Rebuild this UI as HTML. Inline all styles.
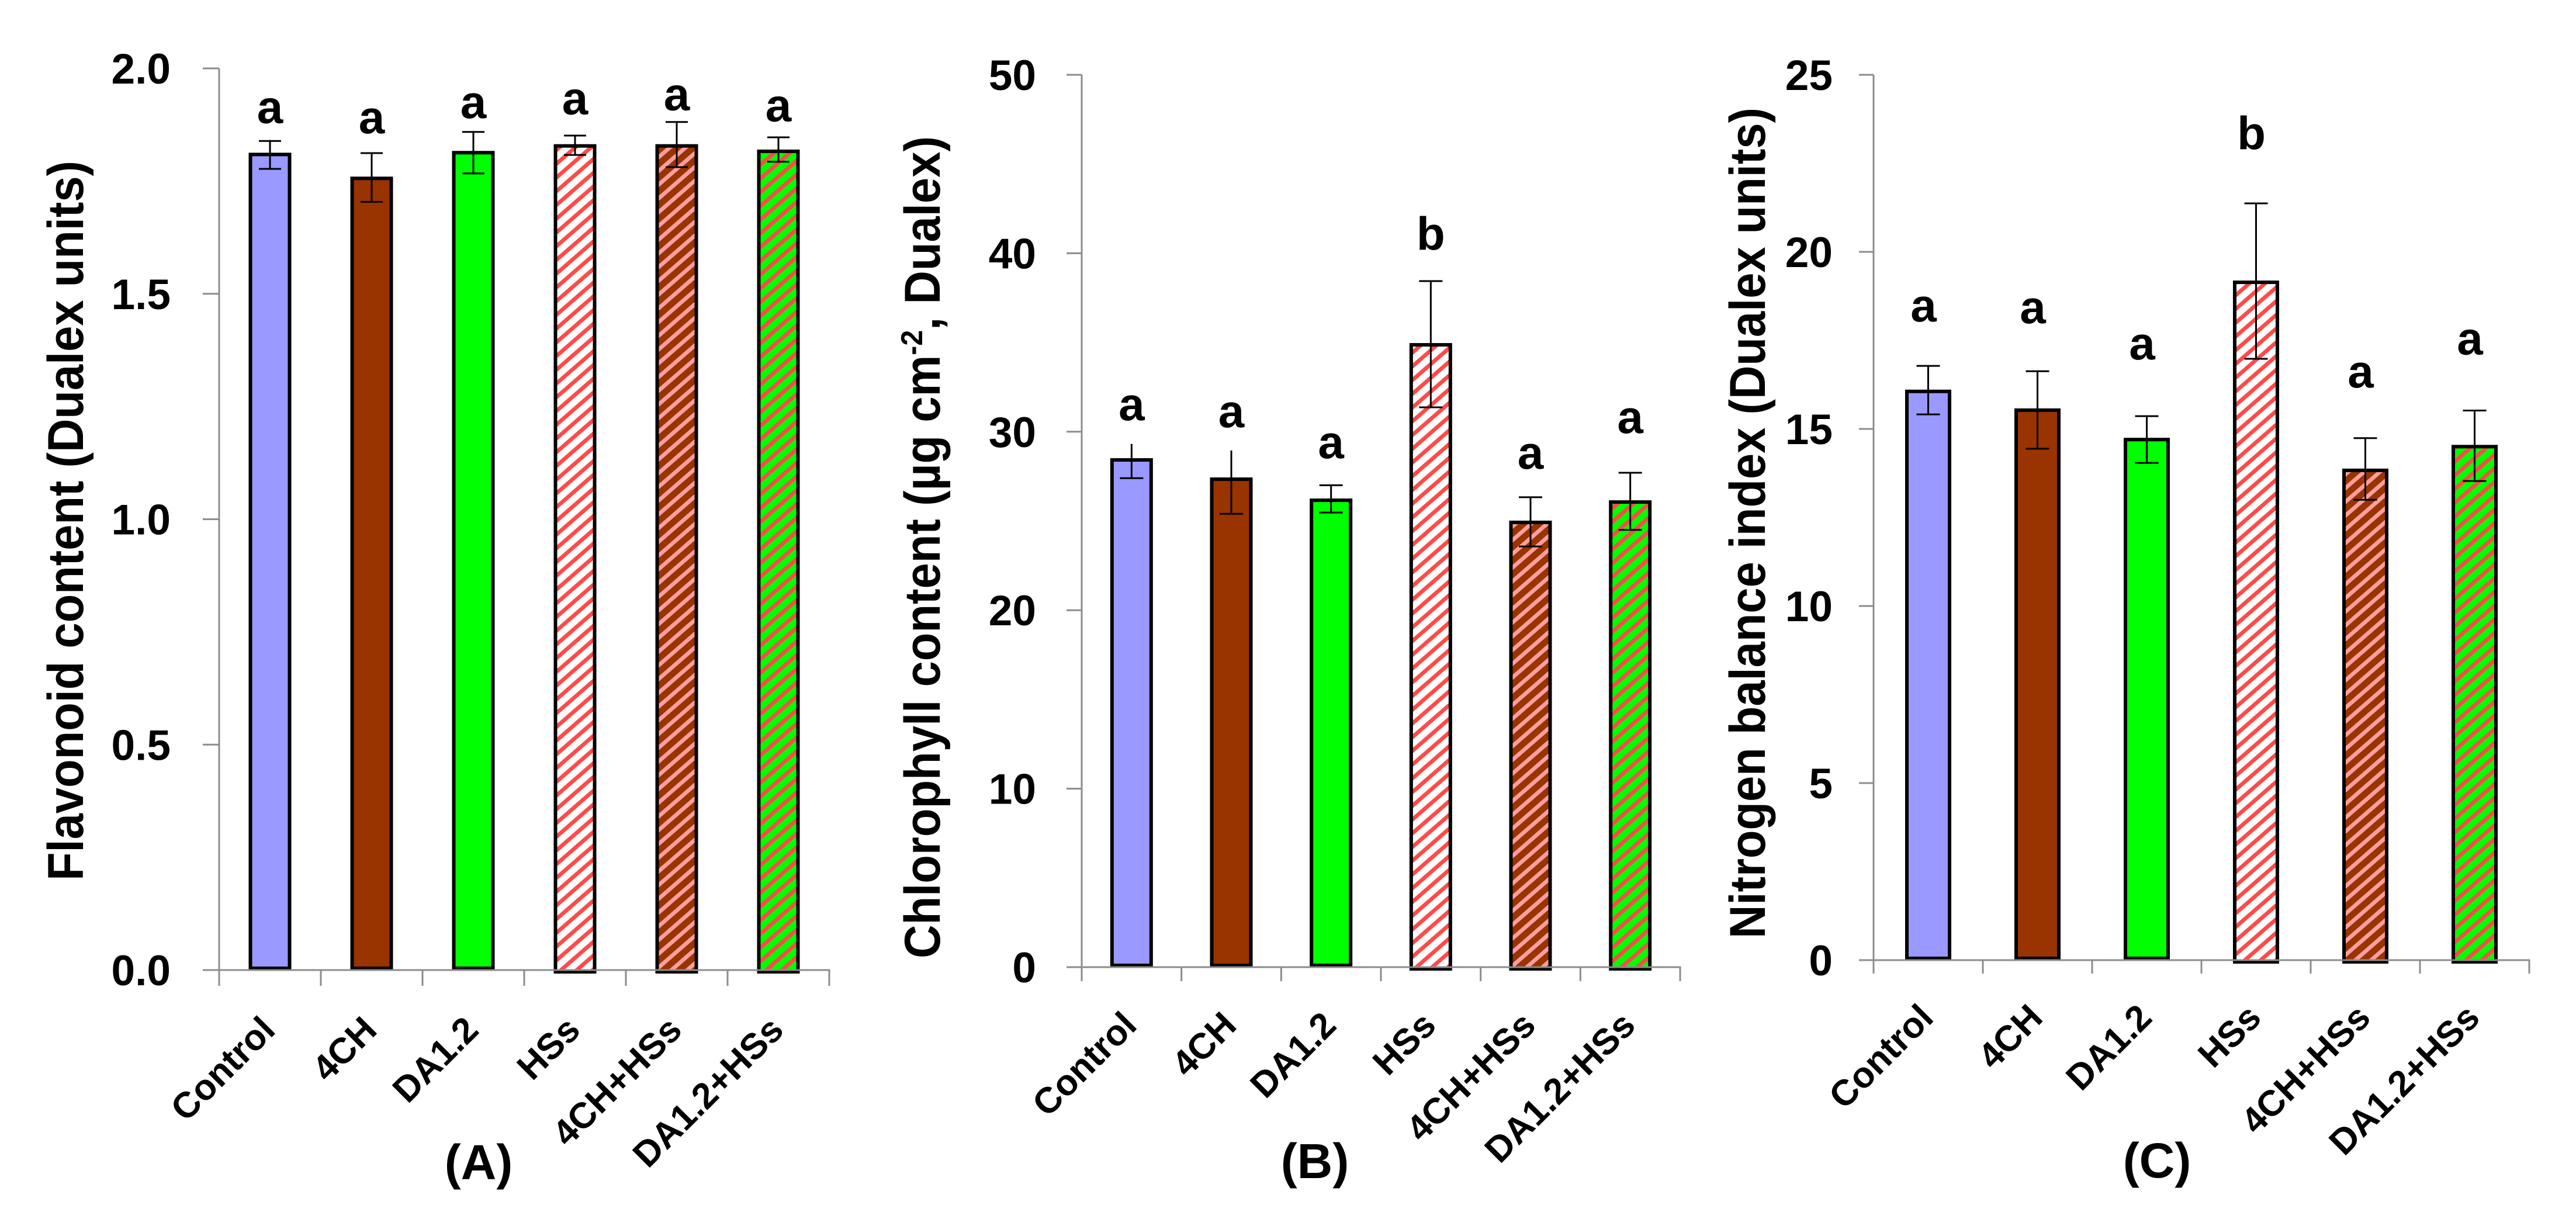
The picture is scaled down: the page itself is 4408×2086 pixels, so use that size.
<!DOCTYPE html>
<html lang="en">
<head>
<meta charset="utf-8">
<title>Flavonoid, chlorophyll and nitrogen balance index bar charts</title>
<style>
  html, body { margin: 0; padding: 0; background: #ffffff; }
  svg { display: block; }
  text { font-family: "Liberation Sans", sans-serif; font-weight: bold; fill: #000000; }
</style>
</head>
<body>
<svg id="figure" xmlns="http://www.w3.org/2000/svg" width="4408" height="2086" viewBox="0 0 4408 2086">
  <defs>
    <pattern id="hatch-white" patternUnits="userSpaceOnUse" width="27" height="23.5">
      <rect width="27" height="23.5" fill="#ffffff"/>
      <polygon points="0,23.5 27,0 27,9 0,32.5" fill="#ff4a4a"/>
      <polygon points="0,0 27,-23.5 27,-14.5 0,9" fill="#ff4a4a"/>
    </pattern>
    <pattern id="hatch-brown" patternUnits="userSpaceOnUse" width="27" height="23.5">
      <rect width="27" height="23.5" fill="#993300"/>
      <polygon points="0,23.5 27,0 27,9 0,32.5" fill="#ff9f9f"/>
      <polygon points="0,0 27,-23.5 27,-14.5 0,9" fill="#ff9f9f"/>
    </pattern>
    <pattern id="hatch-green" patternUnits="userSpaceOnUse" width="27" height="23.5">
      <rect width="27" height="23.5" fill="#00ff00"/>
      <polygon points="0,23.5 27,0 27,9 0,32.5" fill="#ff4a4a"/>
      <polygon points="0,0 27,-23.5 27,-14.5 0,9" fill="#ff4a4a"/>
    </pattern>
  </defs>

  <text transform="translate(142,1507) rotate(-90)" font-size="86" textLength="1232" lengthAdjust="spacingAndGlyphs">Flavonoid content (Dualex units)</text>
  <text transform="translate(1608,1640) rotate(-90)" font-size="86" textLength="1407" lengthAdjust="spacingAndGlyphs">Chlorophyll content (µg cm<tspan font-size="52" dy="-30">-2</tspan><tspan dy="30">, Dualex)</tspan></text>
  <text transform="translate(3020,1606) rotate(-90)" font-size="86" textLength="1422" lengthAdjust="spacingAndGlyphs">Nitrogen balance index (Dualex units)</text>

  <text x="819" y="2018" font-size="84" text-anchor="middle">(A)</text>
  <text x="2250" y="2016" font-size="84" text-anchor="middle">(B)</text>
  <text x="3691" y="2015" font-size="84" text-anchor="middle">(C)</text>
</svg>

<script>
const categories = ["Control", "4CH", "DA1.2", "HSs", "4CH+HSs", "DA1.2+HSs"];
const barFills = ["#9999ff", "#993300", "#00ff00", "url(#hatch-white)", "url(#hatch-brown)", "url(#hatch-green)"];
const barHatched = [false, false, false, true, true, true];

const flavonoidTicks = [0, 0.5, 1, 1.5, 2];
const flavonoidTickLabels = ["0.0", "0.5", "1.0", "1.5", "2.0"];
const flavonoidMeans = [1.809, 1.756, 1.813, 1.828, 1.828, 1.816];
const flavonoidHighs = [1.839, 1.812, 1.859, 1.851, 1.881, 1.847];
const flavonoidLows = [1.777, 1.704, 1.767, 1.808, 1.781, 1.793];
const flavonoidLetters = ["a", "a", "a", "a", "a", "a"];
const flavonoidLetterLevels = [1.879, 1.856, 1.890, 1.898, 1.907, 1.883];
const flavonoidUpperCaps = [true, true, true, true, true, true];

const chlorophyllTicks = [0, 10, 20, 30, 40, 50];
const chlorophyllTickLabels = ["0", "10", "20", "30", "40", "50"];
const chlorophyllMeans = [28.42, 27.34, 26.16, 34.87, 24.92, 26.06];
const chlorophyllHighs = [29.27, 28.9, 27.0, 38.44, 26.33, 27.7];
const chlorophyllLows = [27.4, 25.4, 25.47, 31.37, 23.57, 24.5];
const chlorophyllLetters = ["a", "a", "a", "b", "a", "a"];
const chlorophyllLetterLevels = [30.65, 30.25, 28.52, 40.2, 27.93, 29.93];
const chlorophyllUpperCaps = [false, false, true, true, true, true];

const nitrogenTicks = [0, 5, 10, 15, 20, 25];
const nitrogenTickLabels = ["0", "5", "10", "15", "20", "25"];
const nitrogenMeans = [16.06, 15.53, 14.70, 19.14, 13.83, 14.5];
const nitrogenHighs = [16.78, 16.63, 15.36, 21.37, 14.74, 15.52];
const nitrogenLows = [15.41, 14.44, 14.04, 16.98, 13.0, 13.53];
const nitrogenLetters = ["a", "a", "a", "b", "a", "a"];
const nitrogenLetterLevels = [18.04, 17.99, 16.96, 22.9, 16.17, 17.1];
const nitrogenUpperCaps = [true, true, true, true, true, true];

const SVG_NS = "http://www.w3.org/2000/svg";
const AXIS_COLOR = "#8c8c8c";

function node(parent, tag, attrs, content) {
  const el = document.createElementNS(SVG_NS, tag);
  for (const key in attrs) el.setAttribute(key, attrs[key]);
  if (content !== undefined) el.textContent = content;
  parent.appendChild(el);
  return el;
}

function drawChart(box, series) {
  const svg = document.getElementById("figure");
  const chart = document.createElementNS(SVG_NS, "g");
  
  
  svg.appendChild(chart);

  const maxTick = series.ticks[series.ticks.length - 1];
  const yScale = v => box.base - (v / maxTick) * (box.base - box.top);
  const band = (box.right - box.left) / categories.length;
  const xCenter = i => box.left + band * (i + 0.5);
  const xEdge = i => box.left + band * i;

  // bars
  categories.forEach((cat, i) => {
    const top = yScale(series.means[i]);
    const bottom = barHatched[i] ? box.base + 3 : box.base - 3;
    const bar = node(chart, "rect", {
      x: xCenter(i) - box.barWidth / 2,
      y: top,
      width: box.barWidth,
      height: bottom - top,
      fill: barFills[i],
      stroke: "#000000",
      "stroke-width": 6
    });
    
    
  });

  // axes
  const yAxis = node(chart, "line", { x1: box.left, x2: box.left, y1: box.top, y2: box.base + box.tickLen, stroke: AXIS_COLOR, "stroke-width": 3 });
  
  

  const xAxis = node(chart, "line", { x1: box.left - box.tickOut, x2: box.right + 1.5, y1: box.base, y2: box.base, stroke: AXIS_COLOR, "stroke-width": 3 });
  
  

  series.ticks.forEach((t, i) => {
    const y = yScale(t);
    const mark = node(chart, "line", { x1: box.left - box.tickOut, x2: box.left, y1: y, y2: y, stroke: AXIS_COLOR, "stroke-width": 3 });
    
    
    const label = node(chart, "text", { x: box.labelRight, y: y + 26, "font-size": 73, "text-anchor": "end" }, series.tickLabels[i]);
    
    
  });

  for (let i = 0; i <= categories.length; i++) {
    const mark = node(chart, "line", { x1: xEdge(i), x2: xEdge(i), y1: box.base, y2: box.base + box.tickLen, stroke: AXIS_COLOR, "stroke-width": 3 });
    
    
  }

  // category labels
  categories.forEach((cat, i) => {
    const lx = xCenter(i) + 12;
    const label = node(chart, "text", {
      transform: "translate(" + lx + "," + box.catY + ") rotate(-45)",
      "font-size": 62,
      "text-anchor": "end"
    }, cat);
    
    
  });

  // error bars and significance letters
  categories.forEach((cat, i) => {
    const cx = xCenter(i);
    const hi = yScale(series.highs[i]);
    const lo = yScale(series.lows[i]);
    const stem = node(chart, "line", { x1: cx, x2: cx, y1: hi - 1.5, y2: lo + 1.5, stroke: "#000000", "stroke-width": 3 });
    
    
    if (series.upperCaps[i]) {
      const capTop = node(chart, "line", { x1: cx - box.cap, x2: cx + box.cap, y1: hi, y2: hi, stroke: "#000000", "stroke-width": 3 });
      
      
    }
    const capLow = node(chart, "line", { x1: cx - box.cap, x2: cx + box.cap, y1: lo, y2: lo, stroke: "#000000", "stroke-width": 3 });
    
    

    const letter = node(chart, "text", {
      x: cx + box.letterShift,
      y: yScale(series.letterLevels[i]),
      "font-size": 80,
      "text-anchor": "middle"
    }, series.letters[i]);
    
    
  });
}

drawChart(
  { left: 375, right: 1419, top: 117, base: 1660, barWidth: 67, cap: 19, tickLen: 27, tickOut: 28, labelRight: 292, catY: 1766, letterShift: 0 },
  { name: "flavonoid", ticks: flavonoidTicks, tickLabels: flavonoidTickLabels, means: flavonoidMeans, highs: flavonoidHighs, lows: flavonoidLows, letters: flavonoidLetters, letterLevels: flavonoidLetterLevels, upperCaps: flavonoidUpperCaps }
);
drawChart(
  { left: 1851, right: 2875, top: 128, base: 1655, barWidth: 67, cap: 20, tickLen: 24, tickOut: 26, labelRight: 1773, catY: 1758, letterShift: 0 },
  { name: "chlorophyll", ticks: chlorophyllTicks, tickLabels: chlorophyllTickLabels, means: chlorophyllMeans, highs: chlorophyllHighs, lows: chlorophyllLows, letters: chlorophyllLetters, letterLevels: chlorophyllLetterLevels, upperCaps: chlorophyllUpperCaps }
);
drawChart(
  { left: 3206, right: 4328, top: 128, base: 1643, barWidth: 73, cap: 20, tickLen: 23, tickOut: 25, labelRight: 3136, catY: 1745, letterShift: -8 },
  { name: "nitrogen", ticks: nitrogenTicks, tickLabels: nitrogenTickLabels, means: nitrogenMeans, highs: nitrogenHighs, lows: nitrogenLows, letters: nitrogenLetters, letterLevels: nitrogenLetterLevels, upperCaps: nitrogenUpperCaps }
);
</script>
</body>
</html>
